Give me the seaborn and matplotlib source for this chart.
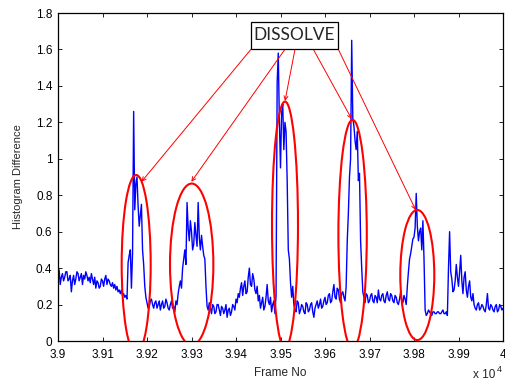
import numpy as np
import matplotlib
matplotlib.use("Agg")
import matplotlib.pyplot as plt
from matplotlib.patches import Ellipse, Rectangle
import seaborn as sns

# ---- data (frame numbers, histogram difference) ----
frame_start, frame_end, frame_step = 39000, 40000, 2.5
# readings on frames 39000, 39005, 39010, ...
hist_diff_on = [
    0.36, 0.31, 0.37, 0.35, 0.38, 0.34, 0.27, 0.36, 0.34, 0.37,
    0.35, 0.31, 0.34, 0.36, 0.35, 0.37, 0.31, 0.29, 0.32, 0.30,
    0.33, 0.34, 0.31, 0.33, 0.30, 0.29, 0.28, 0.27, 0.26, 0.25,
    0.24, 0.23, 0.47, 0.29, 1.26, 0.86, 0.74, 0.69, 0.50, 0.30,
    0.21, 0.19, 0.23, 0.18, 0.22, 0.20, 0.17, 0.22, 0.19, 0.21,
    0.17, 0.22, 0.19, 0.22, 0.26, 0.33, 0.40, 0.50, 0.76, 0.55,
    0.60, 0.53, 0.58, 0.76, 0.50, 0.52, 0.45, 0.19, 0.21, 0.15,
    0.19, 0.16, 0.20, 0.14, 0.18, 0.17, 0.13, 0.18, 0.16, 0.19,
    0.23, 0.26, 0.29, 0.25, 0.33, 0.27, 0.40, 0.30, 0.34, 0.26,
    0.22, 0.18, 0.24, 0.19, 0.31, 0.20, 0.16, 0.22, 0.25, 1.58,
    0.95, 1.30, 1.20, 0.88, 0.45, 0.24, 0.20, 0.16, 0.21, 0.17,
    0.19, 0.15, 0.20, 0.17, 0.21, 0.13, 0.20, 0.18, 0.23, 0.19,
    0.24, 0.21, 0.26, 0.22, 0.31, 0.23, 0.28, 0.21, 0.27, 0.22,
    0.55, 0.90, 1.65, 1.18, 1.05, 0.88, 0.55, 0.27, 0.21, 0.25,
    0.22, 0.26, 0.21, 0.24, 0.28, 0.22, 0.26, 0.21, 0.27, 0.22,
    0.25, 0.21, 0.24, 0.20, 0.27, 0.21, 0.23, 0.30, 0.45, 0.52,
    0.57, 0.81, 0.55, 0.62, 0.66, 0.17, 0.15, 0.16, 0.14, 0.16,
    0.15, 0.16, 0.15, 0.17, 0.15, 0.14, 0.60, 0.34, 0.28, 0.42,
    0.30, 0.47, 0.26, 0.38, 0.24, 0.33, 0.22, 0.20, 0.17, 0.21,
    0.18, 0.19, 0.16, 0.26, 0.17, 0.19, 0.16, 0.20, 0.17, 0.19, 0.18,
]
# readings on frames 39002.5, 39007.5, ...
hist_diff_mid = [
    0.39, 0.35, 0.33, 0.38, 0.33, 0.36, 0.33, 0.31, 0.38, 0.33,
    0.37, 0.36, 0.38, 0.33, 0.32, 0.34, 0.35, 0.33, 0.29, 0.34,
    0.30, 0.36, 0.34, 0.31, 0.32, 0.31, 0.30, 0.28, 0.28, 0.26,
    0.25, 0.43, 0.50, 0.48, 0.72, 0.90, 0.63, 0.75, 0.42, 0.24,
    0.18, 0.22, 0.20, 0.21, 0.18, 0.22, 0.20, 0.18, 0.23, 0.18,
    0.20, 0.18, 0.16, 0.20, 0.30, 0.29, 0.45, 0.42, 0.62, 0.66,
    0.50, 0.65, 0.52, 0.57, 0.58, 0.47, 0.30, 0.17, 0.18, 0.20,
    0.15, 0.20, 0.17, 0.19, 0.15, 0.20, 0.17, 0.14, 0.20, 0.17,
    0.21, 0.24, 0.32, 0.30, 0.26, 0.35, 0.31, 0.37, 0.28, 0.30,
    0.25, 0.21, 0.17, 0.24, 0.22, 0.24, 0.20, 0.15, 1.42, 1.20,
    1.25, 1.05, 1.15, 0.50, 0.32, 0.30, 0.17, 0.22, 0.15, 0.20,
    0.16, 0.21, 0.16, 0.20, 0.16, 0.18, 0.22, 0.20, 0.18, 0.22,
    0.20, 0.25, 0.21, 0.27, 0.24, 0.29, 0.23, 0.26, 0.24, 0.30,
    0.70, 1.00, 1.22, 1.10, 1.15, 0.92, 0.40, 0.24, 0.26, 0.21,
    0.25, 0.22, 0.25, 0.21, 0.23, 0.25, 0.22, 0.25, 0.23, 0.26,
    0.22, 0.25, 0.21, 0.23, 0.22, 0.25, 0.20, 0.38, 0.48, 0.56,
    0.62, 0.63, 0.60, 0.50, 0.45, 0.14, 0.17, 0.15, 0.16, 0.15,
    0.16, 0.15, 0.16, 0.15, 0.16, 0.40, 0.38, 0.27, 0.33, 0.35,
    0.38, 0.33, 0.35, 0.28, 0.30, 0.24, 0.26, 0.18, 0.20, 0.17,
    0.20, 0.17, 0.20, 0.18, 0.20, 0.17, 0.19, 0.16, 0.20, 0.17,
]
frames = np.arange(frame_start, frame_end + 0.1, frame_step)
hist_diff = np.empty(len(frames))
hist_diff[0::2] = hist_diff_on
hist_diff[1::2] = hist_diff_mid

x_ticks = [3.9, 3.91, 3.92, 3.93, 3.94, 3.95, 3.96, 3.97, 3.98, 3.99, 4.0]
x_tick_labels = ["3.9", "3.91", "3.92", "3.93", "3.94", "3.95", "3.96", "3.97", "3.98", "3.99", "4"]
y_ticks = [0, 0.2, 0.4, 0.6, 0.8, 1.0, 1.2, 1.4, 1.6, 1.8]
y_tick_labels = ["0", "0.2", "0.4", "0.6", "0.8", "1", "1.2", "1.4", "1.6", "1.8"]

# annotation: dissolve regions (center x, center y, width, height) in axis units
dissolve_regions = [
    (3.91757, 0.42, 0.00652, 0.982),
    (3.93004, 0.42, 0.00974, 0.888),
    (3.95101, 0.638, 0.00584, 1.352),
    (3.96620, 0.585, 0.00638, 1.257),
    (3.98074, 0.362, 0.00764, 0.714),
]
arrow_starts = [(3.94337, 1.601), (3.95101, 1.601), (3.95326, 1.601), (3.95737, 1.601), (3.96299, 1.601)]
arrow_ends = [(3.91876, 0.874), (3.92996, 0.874), (3.95101, 1.317), (3.96600, 1.218), (3.98038, 0.719)]

# ---- plot ----
sns.set_style("white")
plt.rcParams["font.family"] = ["Liberation Sans", "DejaVu Sans"]

fig = plt.figure(figsize=(5.05, 3.81), dpi=100)
ax = fig.add_axes([58 / 505, 40 / 381, 445 / 505, 328 / 381])

sns.lineplot(x=frames / 1e4, y=hist_diff, ax=ax, color="#0000ff", linewidth=1.0,
             estimator=None, sort=False)

ax.set_xlim(3.9, 4.0)
ax.set_ylim(0, 1.8)
ax.set_xticks(x_ticks)
ax.set_xticklabels(x_tick_labels, fontsize=8.5)
ax.set_yticks(y_ticks)
ax.set_yticklabels(y_tick_labels, fontsize=8.5)
ax.tick_params(direction="in", length=3, width=0.6, top=True, right=True,
               bottom=True, left=True, colors="black")
ax.tick_params(axis="x", pad=6)
ax.tick_params(axis="y", pad=4)
for s in ax.spines.values():
    s.set_visible(True)
    s.set_color("black")
    s.set_linewidth(0.9)

ax.set_xlabel("Frame No", fontsize=8.5, labelpad=4)
ax.set_ylabel("Histogram Difference", fontsize=8, labelpad=9)

for (cx, cy, w, h) in dissolve_regions:
    ax.add_patch(Ellipse((cx, cy), w, h, fill=False, edgecolor="red", linewidth=1.5, zorder=4))

for (sx, sy), (ex, ey) in zip(arrow_starts, arrow_ends):
    ax.annotate("", xy=(ex, ey), xytext=(sx, sy),
                arrowprops=dict(arrowstyle="->", color="red", lw=0.7,
                                shrinkA=0, shrinkB=0, mutation_scale=7),
                zorder=5)

ax.add_patch(Rectangle((3.94337, 1.601), 0.01948, 0.1515, facecolor="white",
                       edgecolor="black", linewidth=0.9, zorder=6))
ax.text(3.95311, 1.677, "DISSOLVE", ha="center", va="center", fontsize=12.5,
        family=["Lato", "DejaVu Sans"], zorder=7)

fig.text(473 / 505, 1 - 378 / 381, "x 10", fontsize=8.5, ha="left", va="baseline")
fig.text(497 / 505, 1 - 372 / 381, "4", fontsize=6.5, ha="left", va="baseline")

fig.savefig("out.png", dpi=100)
